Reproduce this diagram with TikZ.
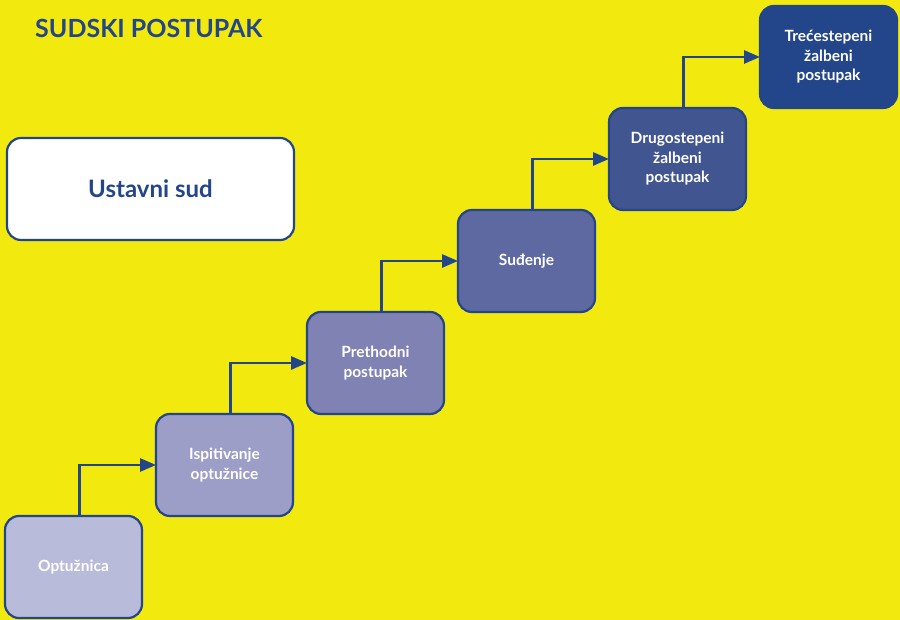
\documentclass[tikz,border=0pt]{standalone}
\usepackage{fontspec}
\setmainfont{Lato}
\usepackage{tikz}
\definecolor{bgyellow}{RGB}{242,233,14}
\definecolor{myblue}{RGB}{35,69,137}
\definecolor{step1}{RGB}{185,187,219}
\definecolor{step2}{RGB}{156,158,200}
\definecolor{step3}{RGB}{127,130,179}
\definecolor{step4}{RGB}{95,105,161}
\definecolor{step5}{RGB}{65,85,145}
\definecolor{step6}{RGB}{35,69,137}
\usetikzlibrary{positioning,arrows.meta}

\begin{document}
\begin{tikzpicture}[x=1pt,y=1pt,
    every node/.style={font=\bfseries\fontsize{15.5}{19.5}\selectfont,text=white,align=center},
    stepbox/.style={draw=myblue,line width=2.2pt,rounded corners=14pt,outer sep=0pt,
        minimum width=137pt,minimum height=102pt,inner sep=2pt},
    link/.style={draw=myblue,line width=2.8pt,-{Triangle[length=16pt,width=13pt]}},
    node distance=0pt and 14pt
    ]

    \fill[bgyellow] (0,0) rectangle (900,620);
    \useasboundingbox (0,0) rectangle (900,620);

    \node (title) [anchor=base west,inner sep=0pt,text=myblue,font=\bfseries\fontsize{25}{29}\selectfont] at (35,582) {SUDSKI POSTUPAK};
    \node (us) [stepbox,fill=white,text=myblue,minimum width=287pt,font=\bfseries\fontsize{24}{28}\selectfont] at (150.5,431) {Ustavni sud};

    \node (s1) [stepbox,fill=step1] at (73.5,53) {Optužnica};
    \node (s2) [stepbox,fill=step2,above right=of s1] {Ispitivanje\\optužnice};
    \node (s3) [stepbox,fill=step3,above right=of s2] {Prethodni\\postupak};
    \node (s4) [stepbox,fill=step4,above right=of s3] {Suđenje};
    \node (s5) [stepbox,fill=step5,above right=of s4] {Drugostepeni\\žalbeni\\postupak};
    \node (s6) [stepbox,fill=step6,above right=of s5] {Trećestepeni\\žalbeni\\postupak};

    % the steps
    \draw[link] ([xshift=6pt]s1.north) |- (s2.west);
    \draw[link] ([xshift=6pt]s2.north) |- (s3.west);
    \draw[link] ([xshift=6pt]s3.north) |- (s4.west);
    \draw[link] ([xshift=6pt]s4.north) |- (s5.west);
    \draw[link] ([xshift=6pt]s5.north) |- (s6.west);
\end{tikzpicture}
\end{document}
